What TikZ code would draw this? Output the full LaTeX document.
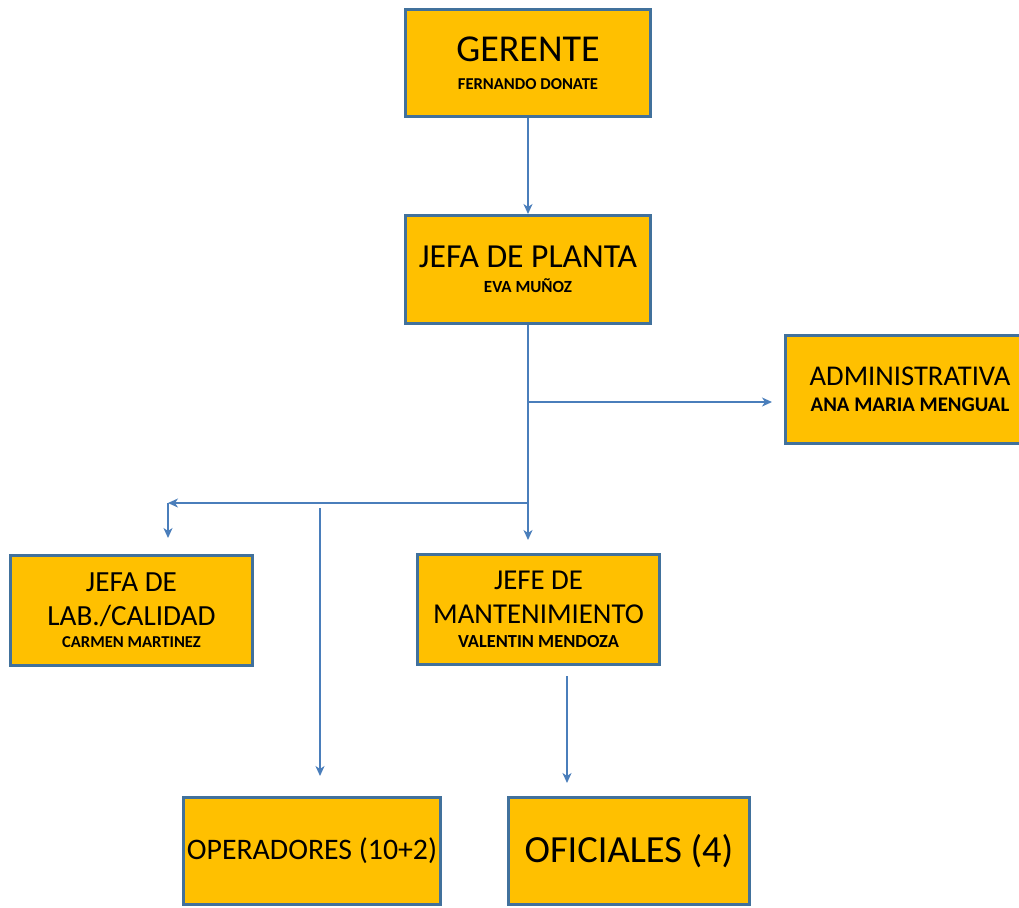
\documentclass[tikz,border=0pt]{standalone}
\usepackage{fontspec}
\setmainfont{Carlito}
\usetikzlibrary{arrows.meta}
\definecolor{boxfill}{HTML}{FFC000}
\definecolor{boxline}{HTML}{41719C}
\definecolor{linkblue}{HTML}{4A7EBB}
\newcommand{\subname}[1]{{\fontsize{8.3}{10}\selectfont\bfseries #1}}

\begin{document}
\begin{tikzpicture}[
  x=0.5pt, y=-0.5pt,
  box/.style={draw=boxline, fill=boxfill, line width=1.5pt, align=center, inner sep=0pt},
  link/.style={draw=linkblue, line width=0.8pt, -{Stealth[length=5pt,width=4.5pt,inset=1.5pt]}}
]
  \useasboundingbox (0,0) rectangle (1019,907);
  \node[box, minimum width=122.5pt, minimum height=53.5pt, font=\fontsize{19}{13.8}\selectfont] (ger) at (528,63) {GERENTE\\\subname{FERNANDO DONATE}};
  \node[box, minimum width=122.5pt, minimum height=54pt, font=\fontsize{16.8}{12.5}\selectfont] (jp) at (528,269.5) {JEFA DE PLANTA\\{\fontsize{8.5}{10}\selectfont\bfseries EVA MUÑOZ}};
  \node[box, minimum width=124.5pt, minimum height=54pt, font=\fontsize{14.3}{13}\selectfont] (adm) at (910,389.5) {ADMINISTRATIVA\\{\fontsize{10.4}{12}\selectfont\bfseries ANA MARIA MENGUAL}};
  \node[box, minimum width=121pt, minimum height=55pt, font=\fontsize{14.6}{11}\selectfont] (lab) at (131.5,610.5) {JEFA DE\\[6pt]LAB./CALIDAD\\\subname{CARMEN MARTINEZ}};
  \node[box, minimum width=121pt, minimum height=55pt, font=\fontsize{14.4}{12}\selectfont] (mant) at (538.5,609.5) {JEFE DE\\[5pt]MANTENIMIENTO\\{\fontsize{9.2}{11}\selectfont\bfseries VALENTIN MENDOZA}};
  \node[box, minimum width=128.5pt, minimum height=53.5pt, font=\fontsize{14.9}{18}\selectfont] (oper) at (312,851) {OPERADORES (10+2)};
  \node[box, minimum width=120.5pt, minimum height=53.5pt, font=\fontsize{19.2}{23}\selectfont] (ofi) at (629,851) {OFICIALES (4)};
  \coordinate (ra) at (528,402);
  \coordinate (la) at (528,503);
  \coordinate (lc) at (168,503);
  \coordinate (os) at (320,508);
  \coordinate (ms) at (567,676);
  \draw[link] (ger) -- (jp);
  \draw[link, shorten >=6.5pt] (jp) -- (jp |- mant.north);
  \draw[link, shorten >=6pt] (ra) -- (ra -| adm.west);
  \draw[link] (la) -- (lc);
  \draw[link, shorten >=8pt] (lc) -- (lc |- lab.north);
  \draw[link, shorten >=10pt] (os) -- (os |- oper.north);
  \draw[link, shorten >=6.5pt] (ms) -- (ms |- ofi.north);
\end{tikzpicture}
\end{document}
